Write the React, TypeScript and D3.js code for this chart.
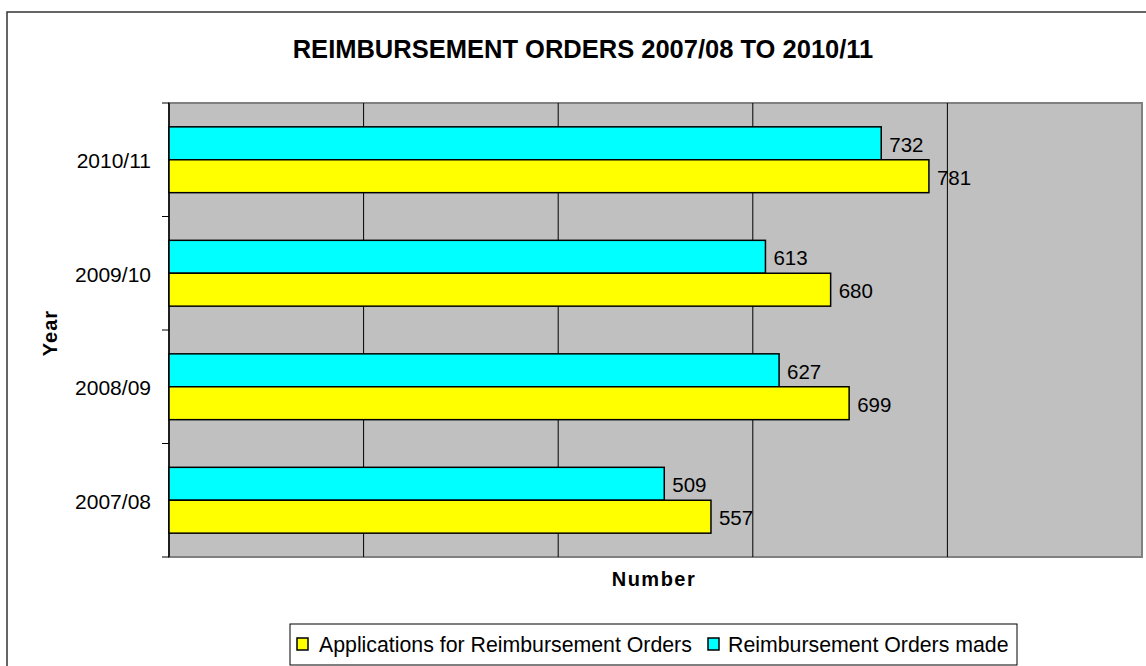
import React from 'react';
import * as d3 from 'd3';

// values
const years = ['2010/11', '2009/10', '2008/09', '2007/08'];
const applications = [781, 680, 699, 557];
const ordersMade = [732, 613, 627, 509];
const seriesNames = ['Reimbursement Orders made', 'Applications for Reimbursement Orders'];
const seriesColors = ['#00FFFF', '#FFFF00'];
const gridTicks = [200, 400, 600, 800];

const W = 1146;
const H = 666;
const FONT = '"Liberation Sans", Arial, sans-serif';

const plot = { left: 169, right: 1142, top: 103, bottom: 557 };

export default function App() {
  const x = d3.scaleLinear().domain([0, 1000]).range([plot.left, plot.right]);
  const y = d3
    .scaleBand<string>()
    .domain(years)
    .range([plot.top, plot.bottom])
    .paddingInner(0.42)
    .paddingOuter(0.21);
  const sub = d3.scaleBand<string>().domain(seriesNames).range([0, y.bandwidth()]);

  const step = y.step();
  const boundaries = d3.range(years.length + 1).map((i) => plot.top + i * step);

  const rows = years.map((yr, i) => ({
    year: yr,
    values: [ordersMade[i], applications[i]],
  }));

  return (
    <svg
      width={W}
      height={H}
      style={{ position: 'absolute', left: 0, top: 0, background: '#fff' }}
      fontFamily={FONT}
    >
      {/* outer chart frame */}
      <rect x={7} y={12} width={W + 10} height={H + 10} fill="#fff" stroke="#333" strokeWidth={1.5} />

      <text x={583} y={58} textAnchor="middle" fontSize={25.5} fontWeight="bold">
        REIMBURSEMENT ORDERS 2007/08 TO 2010/11
      </text>

      {/* plot area */}
      <rect
        x={plot.left}
        y={plot.top}
        width={plot.right - plot.left}
        height={plot.bottom - plot.top}
        fill="#C0C0C0"
        stroke="#808080"
        strokeWidth={2}
      />
      {gridTicks.map((t) => (
        <line key={t} x1={x(t)} x2={x(t)} y1={plot.top} y2={plot.bottom} stroke="#000" strokeWidth={1} />
      ))}

      {/* category axis */}
      <line x1={plot.left} x2={plot.left} y1={plot.top} y2={plot.bottom} stroke="#000" strokeWidth={1.5} />
      {boundaries.map((b, i) => (
        <line key={i} x1={162} x2={plot.left} y1={b} y2={b} stroke="#000" strokeWidth={1} />
      ))}
      {years.map((yr) => (
        <text
          key={yr}
          x={151}
          y={(y(yr) as number) + y.bandwidth() / 2 + 1}
          textAnchor="end"
          dominantBaseline="central"
          fontSize={21}
        >
          {yr}
        </text>
      ))}

      {/* bars */}
      {rows.map((r) => (
        <g key={r.year} transform={`translate(0, ${y(r.year)})`}>
          {r.values.map((v, j) => {
            const by = sub(seriesNames[j]) as number;
            return (
              <g key={j}>
                <rect
                  x={x(0)}
                  y={by}
                  width={x(v) - x(0)}
                  height={sub.bandwidth()}
                  fill={seriesColors[j]}
                  stroke="#000"
                  strokeWidth={1.5}
                />
                <text
                  x={x(v) + 8}
                  y={by + sub.bandwidth() / 2 + 1}
                  dominantBaseline="central"
                  fontSize={20.5}
                >
                  {v}
                </text>
              </g>
            );
          })}
        </g>
      ))}

      {/* axis titles */}
      <text x={654} y={586} textAnchor="middle" fontSize={20} fontWeight="bold" letterSpacing={1.5}>
        Number
      </text>
      <text
        transform="translate(57, 333) rotate(-90)"
        textAnchor="middle"
        fontSize={20}
        fontWeight="bold"
        letterSpacing={1}
      >
        Year
      </text>

      {/* legend */}
      <rect x={290} y={624} width={727} height={41} fill="#fff" stroke="#000" strokeWidth={1} />
      <rect x={297} y={638} width={11} height={12} fill={seriesColors[1]} stroke="#000" strokeWidth={1.5} />
      <text x={319} y={652} fontSize={21.3}>
        {seriesNames[1]}
      </text>
      <rect x={708} y={638} width={11} height={12} fill={seriesColors[0]} stroke="#000" strokeWidth={1.5} />
      <text x={728} y={652} fontSize={21.3}>
        {seriesNames[0]}
      </text>
    </svg>
  );
}
